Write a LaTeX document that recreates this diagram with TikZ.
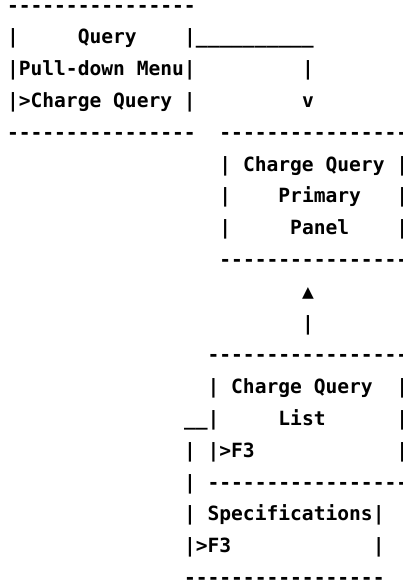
\documentclass[tikz,border=0pt]{standalone}
\usepackage{fontspec}
\setmonofont{DejaVu Sans Mono}
\newcommand\cw{11.8}
\newcommand\lp{31.8}
\newcommand\asc[4]{\node[asc] (#1) at ({7+#2*\cw},{12+#3*\lp}) {#4};}
\begin{document}
\begin{tikzpicture}[x=1pt,y=-1pt,
  asc/.style={anchor=base west,inner sep=0pt,outer sep=0pt,
    font=\ttfamily\bfseries\fontsize{19.6pt}{20pt}\selectfont,text=black}]
\useasboundingbox[fill=white] (0,0) rectangle (402,584);
% Query pull-down menu box
\asc{l0a}{0}{0}{----------------}
\asc{l1a}{0}{1}{|}
\asc{l1b}{6}{1}{Query}
\asc{l1c}{15}{1}{|}
\asc{l1d}{16}{1}{\_\_\_\_\_\_\_\_\_\_}
\asc{l2a}{0}{2}{|Pull-down Menu|}
\asc{l2b}{25}{2}{|}
\asc{l3a}{0}{3}{|>Charge Query |}
\asc{l3b}{25}{3}{v}
\asc{l4a}{0}{4}{----------------}
% Charge Query Primary Panel
\asc{l4b}{18}{4}{----------------}
\asc{l5a}{18}{5}{| Charge Query |}
\asc{l6a}{18}{6}{|}
\asc{l6b}{23}{6}{Primary}
\asc{l6c}{33}{6}{|}
\asc{l7a}{18}{7}{|}
\asc{l7b}{24}{7}{Panel}
\asc{l7c}{33}{7}{|}
\asc{l8a}{18}{8}{----------------}
\asc{l9a}{25}{9}{▲}
\asc{l10a}{25}{10}{|}
% Charge Query List
\asc{l11a}{17}{11}{-----------------}
\asc{l12a}{17}{12}{| Charge Query}
\asc{l12b}{33}{12}{|}
\asc{l13a}{15}{13}{\_\_|}
\asc{l13b}{23}{13}{List}
\asc{l13c}{33}{13}{|}
\asc{l14a}{15}{14}{|}
\asc{l14b}{17}{14}{|>F3}
\asc{l14c}{33}{14}{|}
\asc{l15a}{15}{15}{|}
\asc{l15b}{17}{15}{-----------------}
% Specifications
\asc{l16a}{15}{16}{| Specifications|}
\asc{l17a}{15}{17}{|>F3}
\asc{l17b}{31}{17}{|}
\asc{l18a}{15}{18}{-----------------}
\end{tikzpicture}
\end{document}
